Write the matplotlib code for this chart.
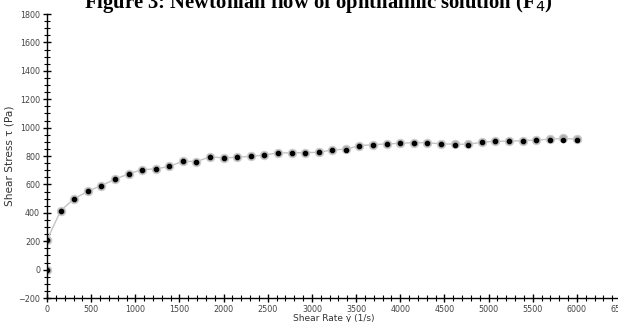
#!/usr/bin/env python3
"""plot.py - flow curve (shear stress vs shear rate) of ophthalmic solution F4."""

import matplotlib

matplotlib.use("Agg")
import matplotlib.pyplot as plt
from matplotlib.ticker import MultipleLocator

# ---------------------------------------------------------------------------
# Data
# ---------------------------------------------------------------------------

shear_rate = [
    0, 0, 154, 308, 462, 615, 769, 923, 1077, 1231, 1385, 1538, 1692, 1846,
    2000, 2154, 2308, 2462, 2615, 2769, 2923, 3077, 3231, 3385, 3538, 3692,
    3846, 4000, 4154, 4308, 4462, 4615, 4769, 4923, 5077, 5231, 5385, 5538,
    5692, 5846, 6000,
]

# measured points (black markers)
stress_measured = [
    0, 208, 415, 500, 551, 592, 636, 674, 704, 709, 727, 763, 761, 794,
    787, 791, 798, 807, 822, 822, 824, 826, 843, 845, 873, 878,
    885, 890, 894, 894, 885, 878, 876, 897, 904, 904, 908, 913,
    913, 913, 915,
]

# curve / replicate points (grey circles joined by a grey line)
stress_curve = [
    0, 208, 415, 500, 551, 592, 636, 674, 704, 709, 727, 763, 761, 794,
    787, 791, 798, 807, 822, 822, 824, 826, 843, 848, 873, 880,
    885, 890, 894, 894, 885, 884, 882, 897, 904, 904, 908, 913,
    918, 924, 918,
]

TITLE = "Figure 3: Newtonian flow of ophthalmic solution (F$_4$)"
XLABEL = "Shear Rate \u03b3\u0307 (1/s)"
YLABEL = "Shear Stress \u03c4 (Pa)"

# ---------------------------------------------------------------------------
# Plot
# ---------------------------------------------------------------------------

fig = plt.figure(figsize=(6.18, 3.22), dpi=100)
ax = fig.add_axes([0.0761, 0.0745, 0.9288, 0.882])

ax.plot(shear_rate, stress_curve, color="#c4c4c4", lw=1.0, marker="o",
        ms=6.0, mfc="#b0b0b0", mec="#cccccc", mew=0.8, zorder=2)
ax.plot(shear_rate, stress_measured, ls="none", marker="o", ms=3.0,
        mfc="black", mec="black", zorder=3)

ax.set_xlim(0, 6500)
ax.set_ylim(-200, 1800)
ax.xaxis.set_major_locator(MultipleLocator(500))
ax.xaxis.set_minor_locator(MultipleLocator(100))
ax.yaxis.set_major_locator(MultipleLocator(200))
ax.yaxis.set_minor_locator(MultipleLocator(50))

for side in ("top", "right"):
    ax.spines[side].set_visible(False)
for side in ("left", "bottom"):
    ax.spines[side].set_linewidth(1.0)

ax.tick_params(which="major", direction="inout", length=6, width=1.0,
               labelsize=5.8, labelcolor="#444444", pad=2)
ax.tick_params(which="minor", direction="inout", length=4, width=0.8)

ax.set_xlabel(XLABEL, fontsize=6.5, color="#333333", labelpad=0)
ax.set_ylabel(YLABEL, fontsize=7.6, color="#333333")
ax.yaxis.set_label_coords(-0.057, 0.5)

fig.text(0.515, 1 - 8 / 322, TITLE, ha="center", va="baseline",
         fontsize=14.9, fontweight="bold", family="Liberation Serif")

fig.savefig("out.png", dpi=100)
plt.close(fig)
